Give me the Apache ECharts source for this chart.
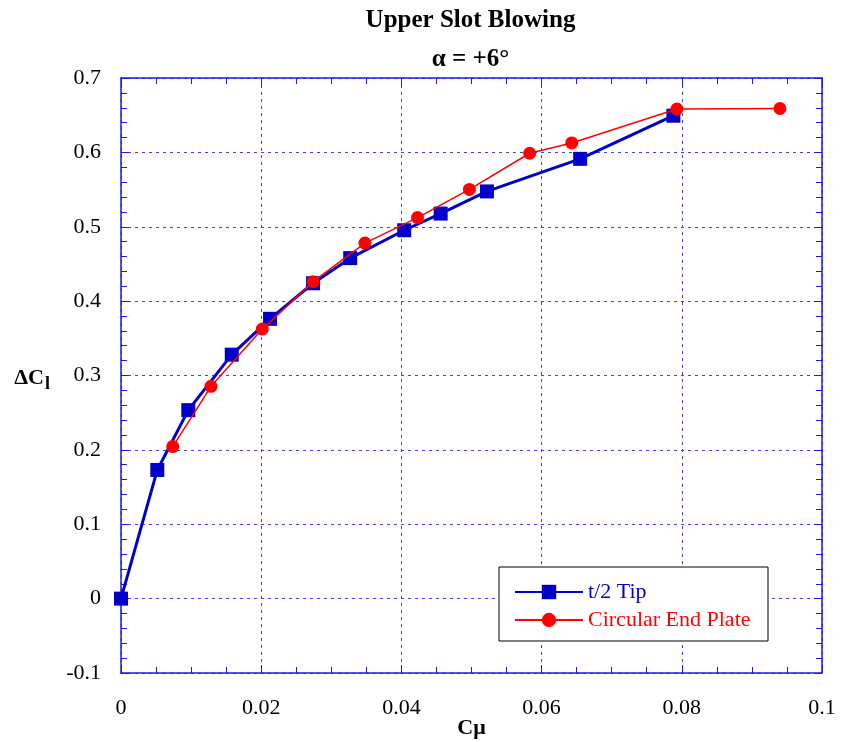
<!DOCTYPE html>
<html>
<head>
<meta charset="utf-8">
<script src="https://cdn.jsdelivr.net/npm/echarts@6/dist/echarts.min.js"></script>
<style>html,body{margin:0;padding:0;background:#fff;}#c{width:841px;height:742px;}</style>
</head>
<body>
<div id="c"></div>
<script>
const tipX = [0, 0.00518, 0.0096, 0.0158, 0.02126, 0.0274, 0.0327, 0.0404, 0.0456, 0.0522, 0.0655, 0.0788];
const tipY = [0, 0.173, 0.2534, 0.328, 0.3762, 0.424, 0.4578, 0.4953, 0.5177, 0.5475, 0.5913, 0.6493];
const plateX = [0.00738, 0.01284, 0.02016, 0.0274, 0.0348, 0.0423, 0.0497, 0.0583, 0.0643, 0.0793, 0.094];
const plateY = [0.2044, 0.2855, 0.3624, 0.4261, 0.478, 0.5123, 0.5502, 0.5988, 0.6127, 0.6582, 0.659];
const seriesNames = ['t/2 Tip', 'Circular End Plate'];
const titleText = 'Upper Slot Blowing';
const subText = 'α = +6°';

const F = 'Liberation Serif, Times New Roman, serif';
const AX = '#1a1ae6';
const GRID = '#4040f0';
const BLUE = '#0000c8';
const RED = '#ff0000';

const chart = echarts.init(document.getElementById('c'), null, {renderer: 'canvas'});
const axisCommon = {
  axisLine: {show: true, onZero: false, lineStyle: {color: AX, width: 1.5}},
  axisTick: {show: true, inside: true, length: 8, lineStyle: {color: AX, width: 1}}
};
chart.setOption({
  animation: false,
  backgroundColor: '#fff',
  title: [
    {text: titleText, left: 465.5, top: 3, textAlign: 'center',
     textStyle: {fontFamily: F, fontSize: 25, fontWeight: 'bold', color: '#000'}},
    {text: subText, left: 465.5, top: 42, textAlign: 'center',
     textStyle: {fontFamily: F, fontSize: 25, fontWeight: 'bold', color: '#000'}}
  ],
  grid: {left: 121, right: 19, top: 78, bottom: 69, containLabel: false, outerBoundsMode: 'none'},
  legend: {
    orient: 'vertical', left: 514, top: 578, itemWidth: 68, itemHeight: 18, itemGap: 0,
    padding: 0,
    textStyle: {fontFamily: F, fontSize: 22, lineHeight: 28},
    data: [
      {name: seriesNames[0], textStyle: {color: BLUE}},
      {name: seriesNames[1], textStyle: {color: RED}}
    ]
  },
  graphic: [
    {type: 'rect', z: 3, shape: {x: 499, y: 567, width: 269, height: 74},
     style: {fill: '#fff', stroke: '#000', lineWidth: 1}}
  ],
  xAxis: [
    Object.assign({}, axisCommon, {
      type: 'value', min: 0, max: 0.1, interval: 0.02, position: 'bottom',
      minorTick: {show: true, splitNumber: 4, length: 6, lineStyle: {color: AX}},
      splitLine: {show: true, lineStyle: {color: GRID, type: [3, 4], width: 1}},
      axisLabel: {fontFamily: F, fontSize: 22, color: '#000', margin: 24},
      name: 'Cμ', nameLocation: 'middle', nameGap: 44, nameMoveOverlap: false,
      nameTextStyle: {fontFamily: F, fontSize: 22, fontWeight: 'bold', color: '#000'}
    }),
    Object.assign({}, axisCommon, {
      type: 'value', min: 0, max: 0.1, interval: 0.02, position: 'top',
      minorTick: {show: true, splitNumber: 4, length: 6, lineStyle: {color: AX}},
      splitLine: {show: false}, axisLabel: {show: false}
    })
  ],
  yAxis: [
    Object.assign({}, axisCommon, {
      type: 'value', min: -0.1, max: 0.7, interval: 0.1, position: 'left',
      minorTick: {show: true, splitNumber: 5, length: 6, lineStyle: {color: AX}},
      splitLine: {show: true, lineStyle: {color: GRID, type: [3, 4], width: 1}},
      axisLabel: {fontFamily: F, fontSize: 22, color: '#000', margin: 20,
        formatter: v => (Math.round(v * 10) / 10).toString()},
      name: '{a|ΔC}{b|l}', nameLocation: 'middle', nameRotate: 0, nameGap: 71, nameMoveOverlap: false,
      nameTextStyle: {padding: [6, 0, 0, 0], rich: {
        a: {fontFamily: F, fontSize: 22, fontWeight: 'bold', color: '#000'},
        b: {fontFamily: F, fontSize: 18, fontWeight: 'bold', color: '#000', verticalAlign: 'bottom', padding: [12, 0, 0, 1]}
      }}
    }),
    Object.assign({}, axisCommon, {
      type: 'value', min: -0.1, max: 0.7, interval: 0.1, position: 'right',
      minorTick: {show: true, splitNumber: 5, length: 6, lineStyle: {color: AX}},
      splitLine: {show: false}, axisLabel: {show: false}
    })
  ],
  series: [
    {name: seriesNames[0], type: 'line', xAxisIndex: 0, yAxisIndex: 0, z: 2,
     data: tipX.map((x, i) => [x, tipY[i]]),
     symbol: 'rect', symbolSize: 14, showAllSymbol: true,
     lineStyle: {color: BLUE, width: 3}, itemStyle: {color: BLUE}},
    {name: seriesNames[1], type: 'line', xAxisIndex: 0, yAxisIndex: 0, z: 3,
     data: plateX.map((x, i) => [x, plateY[i]]),
     symbol: 'circle', symbolSize: 13, showAllSymbol: true,
     lineStyle: {color: RED, width: 1.5}, itemStyle: {color: RED}}
  ]
});
</script>
</body>
</html>
